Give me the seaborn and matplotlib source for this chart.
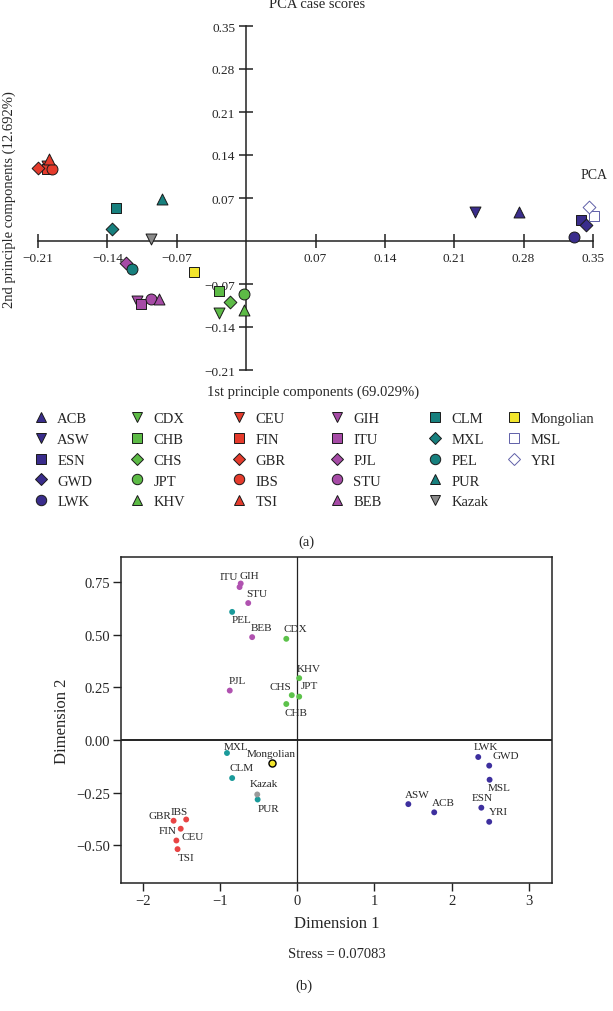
import matplotlib
matplotlib.use("Agg")
import matplotlib.pyplot as plt
import seaborn as sns
import pandas as pd
from matplotlib.lines import Line2D

# populations, in legend order
pops = ["ACB", "ASW", "ESN", "GWD", "LWK",
        "CDX", "CHB", "CHS", "JPT", "KHV",
        "CEU", "FIN", "GBR", "IBS", "TSI",
        "GIH", "ITU", "PJL", "STU", "BEB",
        "CLM", "MXL", "PEL", "PUR", "Kazak",
        "Mongolian", "MSL", "YRI"]
groups = ["AFR"] * 5 + ["EAS"] * 5 + ["EUR"] * 5 + ["SAS"] * 5 + \
         ["AMR"] * 4 + ["Kazak", "Mongolian", "AFR", "AFR"]

# (a) PCA case scores
pc1 = [0.275, 0.231, 0.338, 0.343, 0.331,
       -0.027, -0.027, -0.016, -0.002, -0.002,
       -0.201, -0.201, -0.210, -0.196, -0.199,
       -0.110, -0.106, -0.121, -0.096, -0.088,
       -0.131, -0.135, -0.115, -0.085, -0.096,
       -0.053, 0.351, 0.346]
pc2 = [0.048, 0.047, 0.035, 0.026, 0.007,
       -0.117, -0.082, -0.100, -0.087, -0.113,
       0.122, 0.117, 0.119, 0.117, 0.133,
       -0.097, -0.102, -0.035, -0.094, -0.094,
       0.053, 0.020, -0.046, 0.068, 0.004,
       -0.050, 0.040, 0.055]

# (b) MDS dimensions
dim1 = [1.775, 1.440, 2.385, 2.487, 2.345,
        -0.140, -0.140, -0.069, 0.027, 0.027,
        -1.563, -1.507, -1.599, -1.436, -1.548,
        -0.730, -0.745, -0.872, -0.633, -0.582,
        -0.841, -0.908, -0.841, -0.511, -0.516,
        -0.323, 2.492, 2.487]
dim2 = [-0.344, -0.305, -0.322, -0.122, -0.081,
        0.481, 0.171, 0.213, 0.206, 0.294,
        -0.478, -0.422, -0.384, -0.378, -0.519,
        0.744, 0.727, 0.235, 0.651, 0.489,
        -0.181, -0.062, 0.609, -0.283, -0.259,
        -0.111, -0.189, -0.389]
stress = 0.07083

markers = {"ACB": "^", "ASW": "v", "ESN": "s", "GWD": "D", "LWK": "o",
           "CDX": "v", "CHB": "s", "CHS": "D", "JPT": "o", "KHV": "^",
           "CEU": "v", "FIN": "s", "GBR": "D", "IBS": "o", "TSI": "^",
           "GIH": "v", "ITU": "s", "PJL": "D", "STU": "o", "BEB": "^",
           "CLM": "s", "MXL": "D", "PEL": "o", "PUR": "^", "Kazak": "v",
           "Mongolian": "s", "MSL": "s", "YRI": "D"}
pal_a = {"AFR": "#3a2d8c", "EAS": "#5dbb46", "EUR": "#e53b2c", "SAS": "#a64ba6",
         "AMR": "#17807e", "Kazak": "#8a8a8a", "Mongolian": "#f2e52c"}
pal_b = {"AFR": "#3d2f9e", "EAS": "#5cc24a", "EUR": "#e84444", "SAS": "#b052b0",
         "AMR": "#1a9a9a", "Kazak": "#9a9a9a", "Mongolian": "#f2e52c"}
open_pops = ["MSL", "YRI"]

# label offsets for panel (b), pixels
lab_off = {"ACB": (9, 10), "ASW": (9, 10), "ESN": (1, 10), "GWD": (17, 10), "LWK": (8, 11),
           "CDX": (9, 10), "CHB": (10, -8), "CHS": (-11, 9), "JPT": (10, 11), "KHV": (9, 10),
           "CEU": (16, 4), "FIN": (-13, -2), "GBR": (-14, 5), "IBS": (-7, 8), "TSI": (9, -8),
           "GIH": (9, 8), "ITU": (-11, 11), "PJL": (8, 10), "STU": (9, 10), "BEB": (9, 10),
           "CLM": (9, 11), "MXL": (9, 7), "PEL": (9, -8), "PUR": (11, -9), "Kazak": (7, 11),
           "Mongolian": (-1, 10), "MSL": (10, -8), "YRI": (9, 10)}

df = pd.DataFrame({"pop": pops, "group": groups, "pc1": pc1, "pc2": pc2,
                   "dim1": dim1, "dim2": dim2})

sns.set_style("white")
plt.rcParams["font.family"] = ["Liberation Serif", "DejaVu Serif"]
plt.rcParams["axes.unicode_minus"] = True

W, H = 613, 1012
fig = plt.figure(figsize=(W / 100, H / 100), dpi=100)


def fx(px):
    return px / W


def fy(py):
    return 1 - py / H


def mk_size(m):
    return 42 if m == "D" else 62


def fmt(v):
    s = f"{abs(v):.2f}"
    return ("\u2212" + s) if v < 0 else s


# ---- (a) PCA ----
ax1 = fig.add_axes([fx(38), fy(371), fx(593) - fx(38), fy(27) - fy(371)])
for _, r in df.iterrows():
    m = markers[r["pop"]]
    c = pal_a[r["group"]]
    if r["pop"] in open_pops:
        fc, ec = "white", "#6060a8"
    else:
        fc, ec = c, "#1a1a1a"
    sns.scatterplot(x=[r["pc1"]], y=[r["pc2"]], ax=ax1, marker=m, s=mk_size(m),
                    color=fc, edgecolor=ec, linewidth=0.7, clip_on=False, zorder=3)

ax1.set_xlim(-0.21, 0.35)
ax1.set_ylim(-0.21, 0.35)
for side in ["top", "right"]:
    ax1.spines[side].set_visible(False)
for side in ["left", "bottom"]:
    ax1.spines[side].set_position(("data", 0))
    ax1.spines[side].set_linewidth(1.1)
    ax1.spines[side].set_color("#222222")
ticks_a = [-0.21, -0.14, -0.07, 0.07, 0.14, 0.21, 0.28, 0.35]
ax1.set_xticks(ticks_a)
ax1.set_xticklabels([fmt(t) for t in ticks_a])
ax1.set_yticks(ticks_a)
ax1.set_yticklabels([fmt(t) for t in ticks_a])
ax1.tick_params(direction="inout", length=10, width=1.1, color="#222222",
                labelsize=9.5, pad=3, left=True, bottom=True)
ax1.set_xlabel("")
ax1.set_ylabel("")
ax1.text(0.337, 0.108, "PCA", fontsize=10, ha="left", va="center", clip_on=False)

fig.text(fx(317), fy(5), "PCA case scores", fontsize=10.5, ha="center", va="center")
fig.text(fx(9), fy(200), "2nd principle components (12.692%)", fontsize=10.5,
         rotation=90, ha="center", va="center")
fig.text(fx(313), fy(392), "1st principle components (69.029%)", fontsize=10.5,
         ha="center", va="center")

# legend: one column per block
col_x = [41, 137, 239, 337, 435, 514]
for ci, cx in enumerate(col_x):
    block = pops[ci * 5:ci * 5 + 5]
    handles = []
    for p in block:
        g = df.loc[df["pop"] == p, "group"].iloc[0]
        if p in open_pops:
            fc, ec = "white", "#6060a8"
        else:
            fc, ec = pal_a[g], "#1a1a1a"
        ms = 6.5 if markers[p] == "D" else 7.5
        handles.append(Line2D([], [], marker=markers[p], linestyle="", markersize=ms,
                              markerfacecolor=fc, markeredgecolor=ec, markeredgewidth=0.7))
    fig.legend(handles, block, loc="upper left", bbox_to_anchor=(fx(cx - 7), fy(413)),
               frameon=False, fontsize=10.5, handlelength=1.0, handletextpad=0.6,
               labelspacing=0.52, borderpad=0, borderaxespad=0)

fig.text(fx(306), fy(542), "(a)", fontsize=10.5, ha="center", va="center")

# ---- (b) MDS ----
ax2 = fig.add_axes([fx(121), fy(884), fx(552) - fx(121), fy(558) - fy(884)])
sns.scatterplot(data=df, x="dim1", y="dim2", hue="group", palette=pal_b, s=18,
                linewidth=0, legend=False, ax=ax2, zorder=3)
mong = df[df["pop"] == "Mongolian"]
sns.scatterplot(data=mong, x="dim1", y="dim2", color=pal_b["Mongolian"], s=26,
                edgecolor="black", linewidth=1.0, legend=False, ax=ax2, zorder=4)
for _, r in df.iterrows():
    dx, dy = lab_off[r["pop"]]
    ax2.annotate(r["pop"], (r["dim1"], r["dim2"]), xytext=(dx, dy),
                 textcoords="offset pixels", ha="center", va="center", fontsize=8)

ax2.axhline(0, color="#222222", lw=1.4, zorder=1)
ax2.axvline(0, color="#222222", lw=0.9, zorder=1)
ax2.set_xlim(-2.28, 3.30)
ax2.set_ylim(-0.68, 0.87)
ax2.set_xticks([-2, -1, 0, 1, 2, 3])
ax2.set_xticklabels([("\u2212" + str(abs(t))) if t < 0 else str(t) for t in [-2, -1, 0, 1, 2, 3]])
yt = [-0.5, -0.25, 0.0, 0.25, 0.5, 0.75]
ax2.set_yticks(yt)
ax2.set_yticklabels([fmt(t) for t in yt])
for sp in ax2.spines.values():
    sp.set_linewidth(1.1)
    sp.set_color("#222222")
ax2.tick_params(direction="out", length=6, width=1.0, color="#222222",
                labelsize=10.5, pad=2, left=True, bottom=True)
ax2.set_xlabel("Dimension 1", fontsize=12, labelpad=6)
ax2.set_ylabel("Dimension 2", fontsize=12, labelpad=4)

fig.text(fx(337), fy(955), f"Stress = {stress}", fontsize=10.5, ha="center", va="center")
fig.text(fx(304), fy(986), "(b)", fontsize=10.5, ha="center", va="center")

fig.savefig("out.png", dpi=100, facecolor="white")
